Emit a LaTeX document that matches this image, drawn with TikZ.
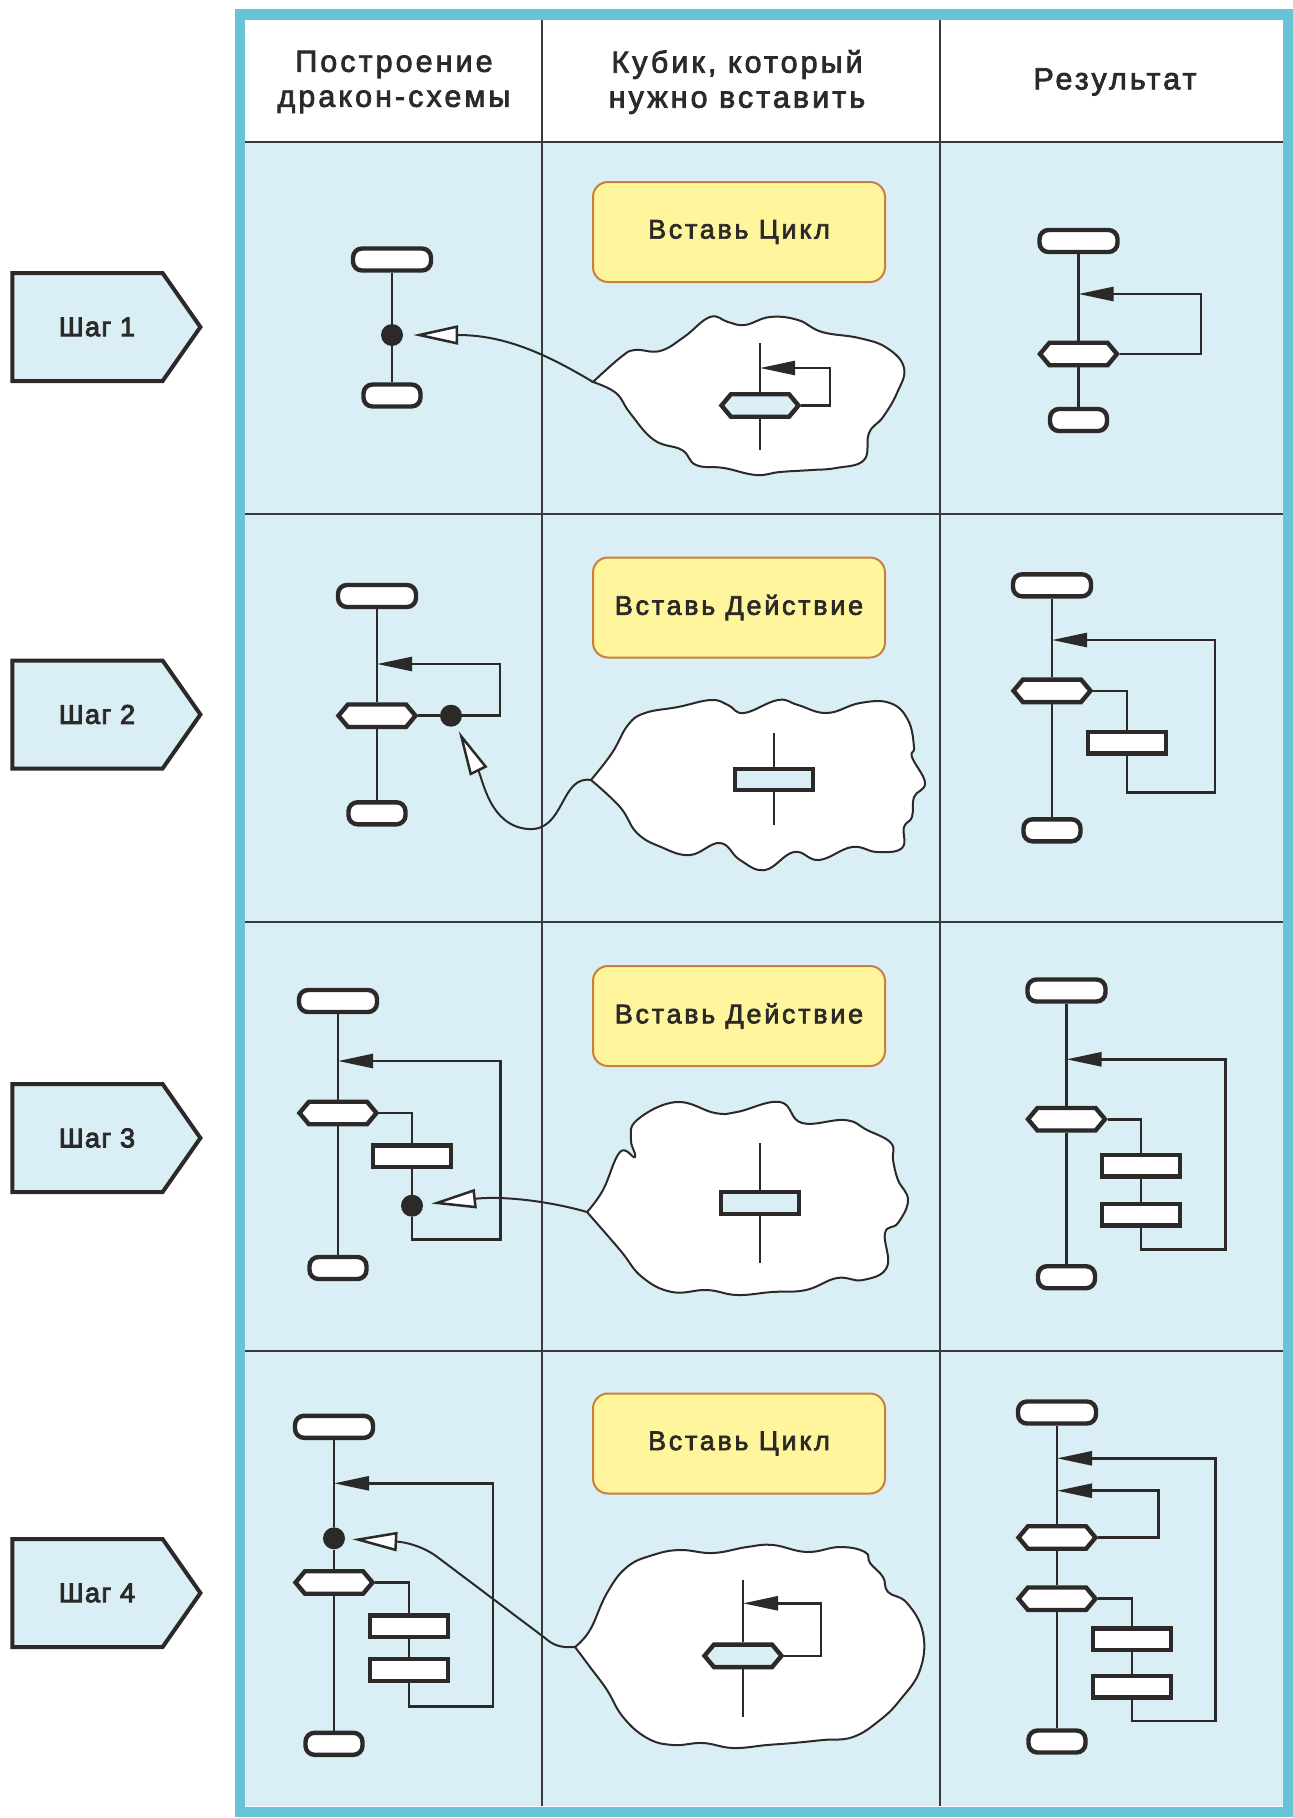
\documentclass[tikz,border=0pt]{standalone}
\usepackage{fontspec}
\setmainfont{Liberation Sans}
\newfontfamily\headfont[LetterSpace=10, FakeBold=2.5]{Liberation Sans}
\newfontfamily\stepfont[LetterSpace=5, FakeBold=3.5]{Liberation Sans}
\usepackage{tikz}
\usetikzlibrary{
  arrows.meta,
  shapes.misc,
  shapes.symbols,
  positioning
}
\definecolor{dkFrame}{HTML}{67C3D6}
\definecolor{dkCell}{HTML}{DAEEF5}
\definecolor{dkInk}{HTML}{2B2A29}
\definecolor{dkNote}{HTML}{FFF59D}
\definecolor{dkNoteEdge}{HTML}{C9803F}
\definecolor{dkGrid}{HTML}{3A3A3A}

\tikzset{
  term/.style={draw=dkInk, line width=4.4pt, fill=white, rectangle,
    rounded corners=9pt, minimum width=78pt, minimum height=22pt, inner sep=0pt},
  termsm/.style={term, minimum width=57pt},
  hexa/.style={draw=dkInk, line width=4.4pt, fill=white, signal,
    signal to=east and west, signal pointer angle=100,
    minimum width=77pt, minimum height=22.5pt, inner sep=0pt},
  act/.style={draw=dkInk, line width=4.4pt, fill=white, rectangle,
    minimum width=78pt, minimum height=21.5pt, inner sep=0pt},
  knot/.style={circle, fill=dkInk, minimum size=22pt, inner sep=0pt},
  flow/.style={draw=dkInk, line width=2.6pt},
  back/.style={flow, -{Triangle[length=35pt, width=14pt]}},
  grab/.style={draw=dkInk, line width=2pt,
    -{Triangle[length=45pt, width=19pt, fill=white, line width=2.5pt]}},
  blob/.style={draw=dkInk, line width=2pt, fill=white},
  cellline/.style={draw=dkGrid, line width=1.6pt},
  head/.style={font=\headfont\fontsize{30.5}{35}\selectfont, align=center, text=dkInk},
  note/.style={draw=dkNoteEdge, line width=2pt, fill=dkNote, rounded corners=15pt,
    minimum width=292pt, minimum height=100pt,
    font=\headfont\fontsize{27}{30}\selectfont, text=dkInk},
  stepbox/.style={draw=dkInk, line width=4pt, fill=dkCell, signal, signal to=east,
    signal pointer angle=110, minimum width=188pt, minimum height=108pt,
    font=\stepfont\fontsize{27}{32}\selectfont, text=dkInk}
}

\begin{document}
\begin{tikzpicture}[x=1pt, y=-1pt]
  \useasboundingbox (0,0) rectangle (1293,1818);

  % table
  \fill[dkCell] (245,142) rectangle (1283,1806);
  \fill[white] (245,18) rectangle (1283,142);
  \foreach \y in {514, 922, 1351}
    \draw[cellline] (245,\y) -- (1283,\y);
  \draw[cellline, line width=2.6pt] (245,142) -- (1283,142);
  \foreach \x in {542, 940}
    \draw[cellline] (\x,18) -- (\x,1806);

  \node[head] (h1) at (394,82) {Построение\\дракон-схемы};
  \node[head] (h2) at (737,82) {Кубик, который\\нужно вставить};
  \node[head] (h3) at (1115,82) {Результат};

  % steps and notes
  \foreach \n/\y in {1/327, 2/714.5, 3/1138, 4/1593}
    \node[stepbox] (s\n) at (87.5,\y) {\hspace*{19pt}Шаг \n};
  \foreach \n/\y/\txt in {1/232/{Вставь Цикл}, 2/607.5/{Вставь Действие},
      3/1016/{Вставь Действие}, 4/1443.5/{Вставь Цикл}}
    \node[note] (b\n) at (739,\y) {\txt};

  % clouds
  \coordinate (k1) at (593,382);
  \draw[blob] plot[smooth, tension=0.7] coordinates {(593,382) (621,357) (635,350)
    (660,351) (684,337) (710,317) (728,322) (745,325) (770,317) (798,320) (822,332)
    (859,338) (887,348) (904,368) (897,393) (883,417) (869,433) (864,460) (836,468)
    (812,470) (780,472) (756,475) (724,468) (696,465) (682,450) (654,440) (630,413)
    (616,393) (593,382)} -- cycle;
  \coordinate (k2) at (591,780);
  \draw[blob] plot[smooth, tension=0.7] coordinates {(591,780) (612,753) (628,725)
    (645,713) (678,707) (711,700) (728,705) (744,713) (778,700) (798,705) (827,713)
    (860,703) (890,703) (908,720) (914,747) (912,757) (925,783) (914,797) (912,817)
    (904,827) (902,848) (877,852) (852,847) (819,860) (794,852) (765,870) (740,860)
    (720,843) (690,855) (661,847) (637,833) (620,807) (591,780)} -- cycle;
  \coordinate (k3) at (587,1212);
  \draw[blob] plot[smooth, tension=0.7] coordinates {(587,1212) (603,1190) (620,1152)
    (635,1157) (631,1140) (637,1120) (676,1102) (715,1113) (737,1112) (780,1102)
    (802,1123) (845,1120) (867,1130) (891,1143) (893,1160) (898,1180) (908,1200)
    (898,1223) (885,1233) (887,1267) (863,1280) (837,1278) (806,1290) (772,1292)
    (737,1295) (707,1290) (672,1292) (642,1277) (620,1250) (587,1212)} -- cycle;
  \coordinate (k4) at (575,1647);
  \draw[blob] plot[smooth, tension=0.7] coordinates {(575,1647) (590,1630) (607,1593)
    (627,1567) (653,1555) (680,1550) (713,1553) (747,1547) (773,1545) (807,1552)
    (840,1547) (865,1552) (870,1563) (883,1577) (888,1592) (907,1603) (923,1633)
    (920,1670) (900,1700) (880,1720) (853,1737) (823,1740) (793,1743) (767,1745)
    (733,1748) (703,1743) (673,1745) (647,1738) (623,1717) (607,1690) (590,1667)
    (575,1647)} -- cycle;

  % cubes inside the clouds
  \coordinate (c1u) at (760,343);
  \coordinate (c1b) at (760,450);
  \coordinate (c1a) at (760,368);
  \node[hexa, fill=dkCell] (c1h) at (760,405.5) {};
  \draw[flow] (c1u) -- (c1h) -- (c1b);
  \draw[back] (c1h.east) -| (830,368) -- (c1a);

  \coordinate (c2u) at (774,733);
  \coordinate (c2b) at (774,825);
  \node[act, fill=dkCell] (c2r) at (774,779.5) {};
  \draw[flow] (c2u) -- (c2r) -- (c2b);

  \coordinate (c3u) at (760,1143);
  \coordinate (c3b) at (760,1263);
  \node[act, fill=dkCell] (c3r) at (760,1203) {};
  \draw[flow] (c3u) -- (c3r) -- (c3b);

  \coordinate (c4u) at (743,1580);
  \coordinate (c4b) at (743,1717);
  \coordinate (c4a) at (743,1603.3);
  \node[hexa, fill=dkCell] (c4h) at (743,1655.8) {};
  \draw[flow] (c4u) -- (c4h) -- (c4b);
  \draw[back] (c4h.east) -| (821,1603.3) -- (c4a);

  % step 1
  \node[term] (a1t) at (392,259.5) {};
  \node[knot] (a1d) at (392,335) {};
  \node[termsm] (a1e) at (392,395.5) {};
  \draw[flow] (a1t) -- (a1d) -- (a1e);

  \node[term] (r1t) at (1078.5,241) {};
  \node[hexa] (r1h) at (1078.5,354) {};
  \node[termsm] (r1e) at (1078.5,420) {};
  \coordinate (r1a) at (1078.5,294);
  \draw[flow] (r1t) -- (r1h) -- (r1e);
  \draw[back] (r1h.east) -| (1201,294) -- (r1a);

  % step 2
  \node[term] (a2t) at (377,596) {};
  \node[hexa] (a2h) at (377,715.7) {};
  \node[knot] (a2d) at (451,715.7) {};
  \node[termsm] (a2e) at (377,813.3) {};
  \coordinate (a2a) at (377,664);
  \draw[flow] (a2t) -- (a2h) -- (a2e);
  \draw[flow] (a2h) -- (a2d);
  \draw[back] (a2d) -- (500,715.7) -- (500,664) -- (a2a);

  \node[term] (r2t) at (1052,585.3) {};
  \node[hexa] (r2h) at (1052,690.8) {};
  \node[act] (r2r) at (1127,742.7) {};
  \node[termsm] (r2e) at (1052,830.3) {};
  \coordinate (r2a) at (1052,640);
  \draw[flow] (r2t) -- (r2h) -- (r2e);
  \draw[flow] (r2h.east) -| (r2r.north);
  \draw[back] (r2r.south) |- (1215,792.7) -- (1215,640) -- (r2a);

  % step 3
  \node[term] (a3t) at (338,1001) {};
  \node[hexa] (a3h) at (338,1113) {};
  \node[act] (a3r) at (412,1156.3) {};
  \node[knot] (a3d) at (412,1205.7) {};
  \node[termsm] (a3e) at (338,1268) {};
  \coordinate (a3a) at (338,1061);
  \draw[flow] (a3t) -- (a3h) -- (a3e);
  \draw[flow] (a3h.east) -| (a3r.north);
  \draw[flow] (a3r) -- (a3d);
  \draw[back] (a3d) |- (500.7,1239.3) -- (500.7,1061) -- (a3a);

  \node[term] (r3t) at (1066.5,990.5) {};
  \node[hexa] (r3h) at (1066.5,1119.2) {};
  \node[act] (r3r1) at (1141,1165.8) {};
  \node[act] (r3r2) at (1141,1214.8) {};
  \node[termsm] (r3e) at (1066.5,1277.2) {};
  \coordinate (r3a) at (1066.5,1059.3);
  \draw[flow] (r3t) -- (r3h) -- (r3e);
  \draw[flow] (r3h.east) -| (r3r1.north);
  \draw[flow] (r3r1) -- (r3r2);
  \draw[back] (r3r2.south) |- (1225.7,1249.3) -- (1225.7,1059.3) -- (r3a);

  % step 4
  \node[term] (a4t) at (334,1426.8) {};
  \node[knot] (a4d) at (334,1538.3) {};
  \node[hexa] (a4h) at (334,1582.5) {};
  \node[act] (a4r1) at (409,1626.2) {};
  \node[act] (a4r2) at (409,1670) {};
  \node[termsm] (a4e) at (334,1743.8) {};
  \coordinate (a4a) at (334,1483.3);
  \draw[flow] (a4t) -- (a4d) -- (a4h) -- (a4e);
  \draw[flow] (a4h.east) -| (a4r1.north);
  \draw[flow] (a4r1) -- (a4r2);
  \draw[back] (a4r2.south) |- (492.9,1706.7) -- (492.9,1483.3) -- (a4a);

  \node[term] (r4t) at (1057,1412.5) {};
  \node[hexa] (r4h1) at (1057,1537.5) {};
  \node[hexa] (r4h2) at (1057,1598.7) {};
  \node[act] (r4r1) at (1132,1639.2) {};
  \node[act] (r4r2) at (1132,1686.7) {};
  \node[termsm] (r4e) at (1057,1741.5) {};
  \coordinate (r4a1) at (1057,1458.3);
  \coordinate (r4a2) at (1057,1490.7);
  \draw[flow] (r4t) -- (r4h1) -- (r4h2) -- (r4e);
  \draw[flow] (r4h2.east) -| (r4r1.north);
  \draw[flow] (r4r1) -- (r4r2);
  \draw[back] (r4r2.south) |- (1215.7,1721) -- (1215.7,1458.3) -- (r4a1);
  \draw[back] (r4h1.east) -| (1158.3,1490.7) -- (r4a2);

  % cubes pulled into place
  \draw[grab, shorten >=10pt] (k1) .. controls (540,350) and (500,335) .. (a1d);
  \draw[grab, shorten >=6pt] (k2) .. controls (560,775) and (565,832) .. (528,829)
    .. controls (490,826) and (483,780) .. (a2d);
  \draw[grab, shorten >=8pt] (k3) .. controls (545,1200) and (500,1196) .. (a3d);
  \draw[grab, shorten >=7pt] (k4) .. controls (560,1648) and (553,1645) .. (545,1638)
    -- (436,1556) .. controls (422,1546) and (405,1542) .. (a4d);

  % frame
  \draw[dkFrame, line width=10.5pt] (240,14.5) rectangle (1288,1812);
\end{tikzpicture}
\end{document}
